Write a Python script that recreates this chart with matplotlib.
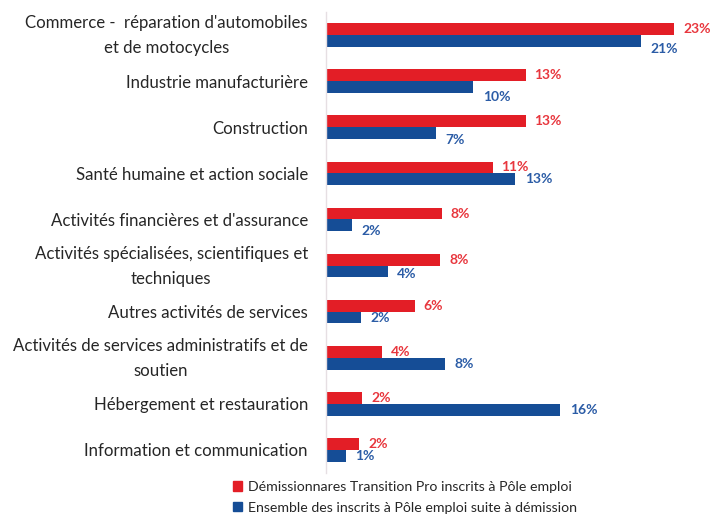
import matplotlib
matplotlib.use('Agg')
import matplotlib.pyplot as plt
import matplotlib.transforms as mtransforms
from matplotlib.patches import Patch

plt.rcParams['font.family'] = ['Lato', 'DejaVu Sans']

# secteurs (du haut vers le bas)
secteurs = [
    "Commerce -  réparation d'automobiles\net de motocycles",
    "Industrie manufacturière",
    "Construction",
    "Santé humaine et action sociale",
    "Activités financières et d'assurance",
    "Activités spécialisées, scientifiques et\ntechniques",
    "Autres activités de services",
    "Activités de services administratifs et de\nsoutien",
    "Hébergement et restauration",
    "Information et communication",
]
transition_pro = [23.2, 13.3, 13.3, 11.1, 7.7, 7.6, 5.9, 3.7, 2.4, 2.2]
ensemble = [21.0, 9.8, 7.3, 12.6, 1.7, 4.1, 2.3, 7.9, 15.6, 1.3]

nom_tp = "Démissionnares Transition Pro inscrits à Pôle emploi"
nom_ens = "Ensemble des inscrits à Pôle emploi suite à démission"

rouge = '#e31e26'
bleu = '#154d96'
rouge_txt = '#e8363d'
bleu_txt = '#2b5ca6'

# petit décalage vertical des étiquettes bleues (en points)
decal_bleu = [6, 7, 5, 0, 4, 2, 0, 0, 0, 0]

fig = plt.figure(figsize=(7.10, 5.16), dpi=100)
ax = fig.add_axes([326 / 710, 43 / 516, 375 / 710, 461 / 516])

h = 0.255
pos = list(range(len(secteurs)))
b1 = ax.barh([p - h / 2 for p in pos], transition_pro, height=h, color=rouge)
b2 = ax.barh([p + h / 2 for p in pos], ensemble, height=h, color=bleu)

for p, v in zip(pos, transition_pro):
    ax.annotate('{:.0f}%'.format(v), xy=(v, p - h / 2), xytext=(6.5, 0),
                textcoords='offset points', va='center', ha='left',
                color=rouge_txt, fontsize=10, fontweight='bold')
for p, v, d in zip(pos, ensemble, decal_bleu):
    ax.annotate('{:.0f}%'.format(v), xy=(v, p + h / 2), xytext=(7, -d),
                textcoords='offset points', va='center', ha='left',
                color=bleu_txt, fontsize=10, fontweight='bold')

ax.set_xlim(0, 25)
ax.set_ylim(len(secteurs) - 0.5, -0.5)
ax.set_yticks(pos)
ax.set_yticklabels(secteurs, fontsize=12.1, multialignment='center',
                   linespacing=1.72, color='#262626')
ax.tick_params(axis='y', length=0, pad=13)
ax.set_xticks([])
for s in ['top', 'right', 'bottom']:
    ax.spines[s].set_visible(False)
ax.spines['left'].set_color('#e6dfe3')
ax.spines['left'].set_linewidth(1)

# remonter un peu les libellés sur deux lignes
monte = mtransforms.ScaledTranslation(0, 0.055, fig.dpi_scale_trans)
for lab in ax.get_yticklabels():
    if '\n' in lab.get_text():
        lab.set_transform(lab.get_transform() + monte)

handles = [Patch(color=rouge), Patch(color=bleu)]
fig.legend(handles, [nom_tp, nom_ens], loc='upper left',
           bbox_to_anchor=(226 / 710, 1 - 474 / 516), frameon=False,
           fontsize=10.2, handlelength=0.65, handleheight=0.65,
           handletextpad=0.4, labelspacing=0.6, borderpad=0,
           labelcolor='#262626')

fig.savefig('out.png', dpi=100)
